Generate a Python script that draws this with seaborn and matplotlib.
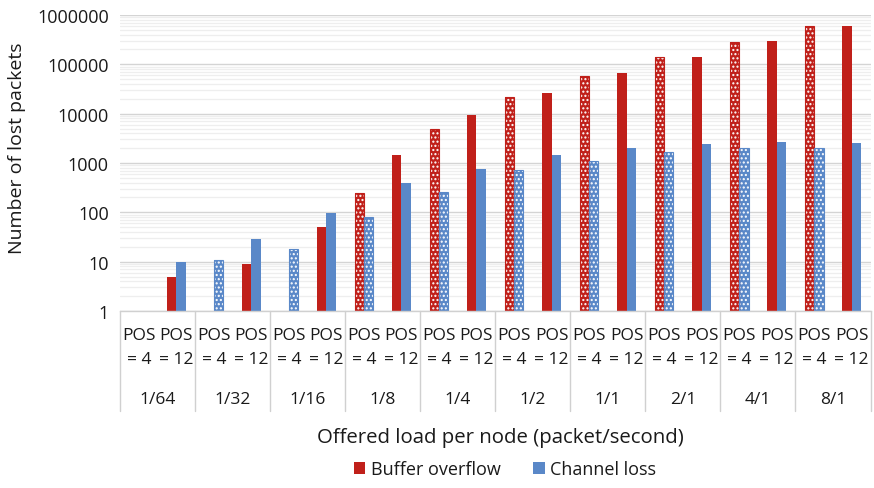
import numpy as np
import pandas as pd
import matplotlib
matplotlib.use("Agg")
import matplotlib.pyplot as plt
import matplotlib.transforms as mtransforms
from matplotlib.patches import Patch, Rectangle
from matplotlib.ticker import FixedLocator, NullFormatter
import seaborn as sns

# Offered load per node (packet/second)
loads = ["1/64", "1/32", "1/16", "1/8", "1/4", "1/2", "1/1", "2/1", "4/1", "8/1"]
pos_settings = ["POS\n= 4", "POS\n= 12"]
loss_types = ["Buffer overflow", "Channel loss"]

# Number of lost packets (0 = no packets lost)
buffer_pos4 = [0, 0, 0, 250, 4800, 22000, 58000, 138000, 290000, 610000]
buffer_pos12 = [5, 9, 50, 1480, 9300, 25700, 68000, 138000, 295000, 600000]
channel_pos4 = [0, 11, 18, 82, 263, 725, 1120, 1680, 2030, 2030]
channel_pos12 = [10, 29, 96, 390, 770, 1420, 2050, 2450, 2650, 2560]

y_ticks = [1, 10, 100, 1000, 10000, 100000, 1000000]

RED = "#C0201A"
BLUE = "#5A88C8"

rows = []
for i, load in enumerate(loads):
    for pos, (buf, ch) in zip(pos_settings, [(buffer_pos4, channel_pos4), (buffer_pos12, channel_pos12)]):
        slot = f"{load}|{pos}"
        rows.append({"slot": slot, "type": loss_types[0], "lost": buf[i]})
        rows.append({"slot": slot, "type": loss_types[1], "lost": ch[i]})
df = pd.DataFrame(rows)
slots = list(dict.fromkeys(df["slot"]))

sns.set_theme(style="white")
plt.rcParams["font.family"] = ["Open Sans", "DejaVu Sans"]
plt.rcParams["hatch.linewidth"] = 1.0

fig = plt.figure(figsize=(8.74, 4.89), dpi=100)
W, H = 874, 489
x0, x1, ytop, ybot = 120, 870.5, 16, 312
ax = fig.add_axes([x0 / W, (H - ybot) / H, (x1 - x0) / W, (ybot - ytop) / H])

sns.barplot(data=df, x="slot", y="lost", hue="type", order=slots,
            hue_order=loss_types, palette=[RED, BLUE], width=0.5,
            errorbar=None, legend=False, ax=ax, saturation=1, linewidth=0)

ax.set_yscale("log")
ax.set_ylim(1, 1000000)
ax.set_xlim(-0.5, len(slots) - 0.5)

# dotted pattern on the POS = 4 bars, with a thin solid outline
for cont, col in zip(ax.containers, [RED, BLUE]):
    for j, bar in enumerate(cont):
        if j % 2 == 0:
            bar.set_hatch("....")
            bar.set_edgecolor("white")
            bar.set_linewidth(0)
            if bar.get_height() > 0:
                ax.add_patch(Rectangle(bar.get_xy(), bar.get_width(), bar.get_height(),
                                       fill=False, edgecolor=col, linewidth=0.8, zorder=bar.get_zorder()))

# grid
ax.yaxis.set_major_locator(FixedLocator(y_ticks))
ax.yaxis.set_minor_locator(FixedLocator([m * 10 ** e for e in range(0, 6) for m in range(2, 10)]))
ax.yaxis.set_minor_formatter(NullFormatter())
ax.set_yticklabels([str(v) for v in y_ticks])
ax.grid(which="major", axis="y", color="#d4d4d4", linewidth=1.0)
ax.grid(which="minor", axis="y", color="#eeeeee", linewidth=0.9)
ax.set_axisbelow(True)
ax.tick_params(axis="y", which="both", length=0, pad=8, labelsize=13, labelcolor="#1a1a1a")
ax.tick_params(axis="x", length=0)
ax.set_xticks([])
ax.set_xlabel("")
ax.set_ylabel("")
for s in ["left", "right", "top"]:
    ax.spines[s].set_visible(False)
ax.spines["bottom"].set_color("#d0d0d0")
ax.spines["bottom"].set_linewidth(1.0)

# category table under the axis
trans = mtransforms.blended_transform_factory(ax.transData, ax.transAxes)
ah = ybot - ytop
def ay(py):
    return -(py - ybot) / ah

for k in range(len(loads) + 1):
    xb = -0.5 + 2 * k
    ax.plot([xb, xb], [0, ay(412)], transform=trans, color="#d0d0d0",
            linewidth=1.0, clip_on=False)

for i, slot in enumerate(slots):
    top, bottom = slot.split("|")[1].split("\n")
    ax.text(i, ay(336.5), top, transform=trans, ha="center", va="center",
            fontsize=12.5, color="#1a1a1a")
    ax.text(i, ay(360), bottom, transform=trans, ha="center", va="center",
            fontsize=12.5, color="#1a1a1a")
for g, load in enumerate(loads):
    ax.text(2 * g + 0.5, ay(400), load, transform=trans, ha="center", va="center",
            fontsize=12.5, color="#1a1a1a")

fig.text(500 / W, 1 - 438 / H, "Offered load per node (packet/second)",
         ha="center", va="center", fontsize=14.7, color="#1a1a1a")
fig.text(17 / W, 1 - 148 / H, "Number of lost packets", rotation=90,
         ha="center", va="center", fontsize=14, color="#1a1a1a")

handles = [Patch(facecolor=RED, edgecolor="none"), Patch(facecolor=BLUE, edgecolor="none")]
fig.legend(handles, loss_types, loc="center", bbox_to_anchor=(505 / W, 1 - 470 / H),
           ncol=2, frameon=False, fontsize=13, handlelength=0.65, handleheight=0.65,
           handletextpad=0.3, columnspacing=1.8, labelcolor="#1a1a1a")

fig.savefig("out.png", dpi=100)
